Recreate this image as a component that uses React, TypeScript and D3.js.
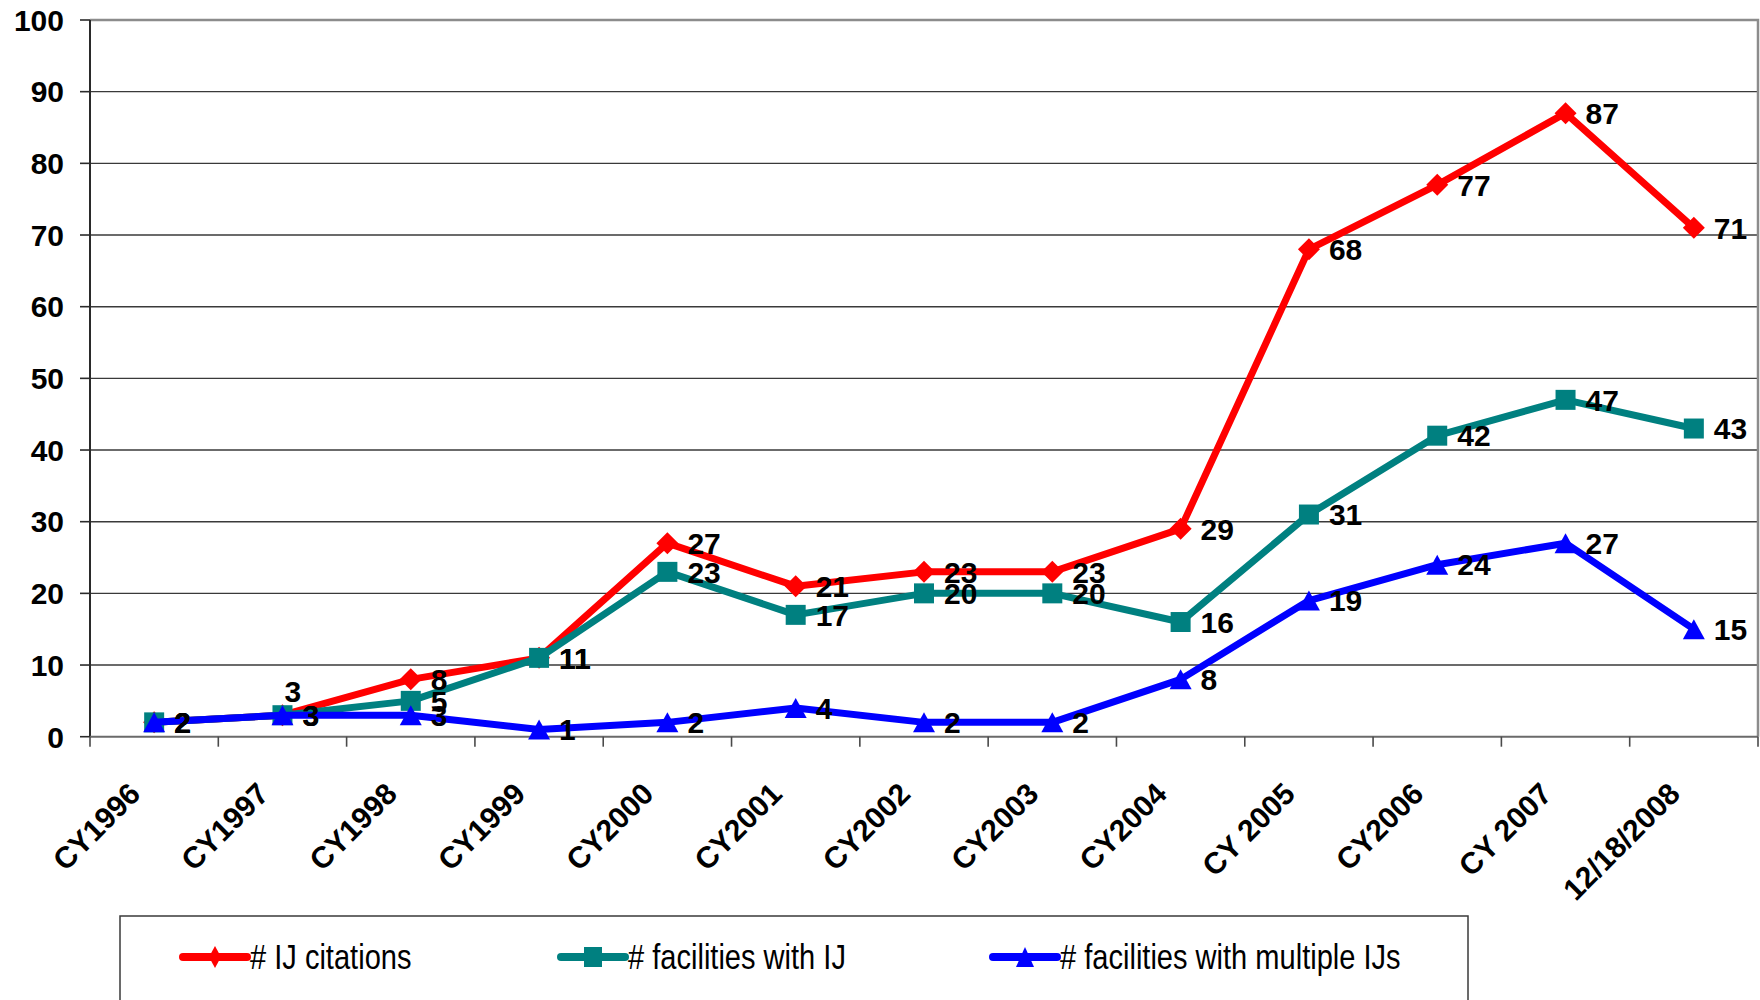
import * as d3 from 'd3';
import React, { useEffect, useRef } from 'react';

const categories = ['CY1996', 'CY1997', 'CY1998', 'CY1999', 'CY2000', 'CY2001', 'CY2002', 'CY2003', 'CY2004', 'CY 2005', 'CY2006', 'CY 2007', '12/18/2008'];
const ijCitations = [2, 3, 8, 11, 27, 21, 23, 23, 29, 68, 77, 87, 71];
const facilitiesWithIJ = [2, 3, 5, 11, 23, 17, 20, 20, 16, 31, 42, 47, 43];
const facilitiesMultipleIJs = [2, 3, 3, 1, 2, 4, 2, 2, 8, 19, 24, 27, 15];
const yTicks = [0, 10, 20, 30, 40, 50, 60, 70, 80, 90, 100];
const seriesNames = ['# IJ citations', '# facilities with IJ', '# facilities with multiple IJs'];

// excel-ish markers, sized by half width / half height
const diamond = (w, h) => ({
  draw(ctx) {
    ctx.moveTo(0, -h); ctx.lineTo(w, 0); ctx.lineTo(0, h); ctx.lineTo(-w, 0); ctx.closePath();
  }
});
const square = (w, h) => ({
  draw(ctx) {
    ctx.moveTo(-w, -h); ctx.lineTo(w, -h); ctx.lineTo(w, h); ctx.lineTo(-w, h); ctx.closePath();
  }
});
const triangle = (w, h) => ({
  draw(ctx) {
    ctx.moveTo(0, -h); ctx.lineTo(w, h); ctx.lineTo(-w, h); ctx.closePath();
  }
});

function App() {
  const ref = useRef(null);
  const width = 1760;
  const height = 1000;
  const left = 90, right = 1758, top = 20, bottom = 736.7;

  useEffect(() => {
    const svg = d3.select(ref.current);
    svg.selectAll('*').remove();
    const font = '"Liberation Sans", Arial, sans-serif';

    const x = d3.scaleBand().domain(categories).range([left, right]);
    const y = d3.scaleLinear().domain([0, 100]).range([bottom, top]);
    const cx = d => x(d) + x.bandwidth() / 2;

    // gridlines
    svg.append('g').selectAll('line')
      .data(yTicks.filter(t => t > 0 && t < 100))
      .enter().append('line')
      .attr('x1', left).attr('x2', right)
      .attr('y1', d => y(d)).attr('y2', d => y(d))
      .attr('stroke', '#3a3a3a').attr('stroke-width', 1.4);

    // plot border (top/right)
    svg.append('path')
      .attr('d', `M${left},${top}H${right}V${bottom}`)
      .attr('fill', 'none').attr('stroke', '#8c8c8c').attr('stroke-width', 2.5);

    // y axis
    const ya = svg.append('g');
    ya.append('line').attr('x1', left).attr('x2', left).attr('y1', top).attr('y2', bottom)
      .attr('stroke', '#2a2a2a').attr('stroke-width', 2);
    ya.selectAll('.tk').data(yTicks).enter().append('line')
      .attr('x1', left - 10).attr('x2', left)
      .attr('y1', d => y(d)).attr('y2', d => y(d))
      .attr('stroke', '#2a2a2a').attr('stroke-width', 1.6);
    ya.selectAll('text').data(yTicks).enter().append('text')
      .attr('x', 64).attr('y', d => y(d)).attr('dy', '0.36em')
      .attr('text-anchor', 'end')
      .attr('font-family', font).attr('font-weight', 'bold').attr('font-size', 30)
      .text(d => d);

    // x axis
    const xa = svg.append('g');
    xa.append('line').attr('x1', left).attr('x2', right).attr('y1', bottom).attr('y2', bottom)
      .attr('stroke', '#6a6a6a').attr('stroke-width', 2);
    xa.selectAll('.tk').data(d3.range(categories.length + 1)).enter().append('line')
      .attr('x1', i => left + i * x.step()).attr('x2', i => left + i * x.step())
      .attr('y1', bottom).attr('y2', bottom + 10)
      .attr('stroke', '#4a4a4a').attr('stroke-width', 1.6);
    xa.selectAll('text').data(categories).enter().append('text')
      .attr('transform', d => `translate(${cx(d) - 12},${bottom + 59}) rotate(-45)`)
      .attr('text-anchor', 'end')
      .attr('font-family', font).attr('font-weight', 'bold').attr('font-size', 30)
      .text(d => d);

    const series = [
      { name: seriesNames[0], values: ijCitations, color: '#ff0000', symbol: diamond(11, 11), legendSymbol: diamond(6, 11) },
      { name: seriesNames[1], values: facilitiesWithIJ, color: '#008080', symbol: square(10, 10), legendSymbol: square(9, 10) },
      { name: seriesNames[2], values: facilitiesMultipleIJs, color: '#0000ff', symbol: triangle(11, 10), legendSymbol: triangle(9, 10) }
    ];

    const line = d3.line().x(d => cx(d.c)).y(d => y(d.v));

    series.forEach(s => {
      const pts = categories.map((c, i) => ({ c, v: s.values[i] }));
      svg.append('path').datum(pts)
        .attr('d', line)
        .attr('fill', 'none').attr('stroke', s.color).attr('stroke-width', 7)
        .attr('stroke-linejoin', 'round');
      svg.append('g').selectAll('path').data(pts).enter().append('path')
        .attr('transform', d => `translate(${cx(d.c)},${y(d.v)})`)
        .attr('d', d3.symbol().type(s.symbol)())
        .attr('fill', s.color);
    });

    // data labels (the red CY1997 label sits above its point)
    series.forEach((s, si) => {
      svg.append('g').selectAll('text')
        .data(categories.map((c, i) => ({ c, v: s.values[i], i })))
        .enter().append('text')
        .attr('x', d => (si === 0 && d.i === 1) ? cx(d.c) + 2 : cx(d.c) + 20)
        .attr('y', d => (si === 0 && d.i === 1) ? y(d.v) - 24 : y(d.v))
        .attr('dy', '0.36em')
        .attr('font-family', font).attr('font-weight', 'bold').attr('font-size', 30)
        .text(d => d.v);
    });

    // legend
    const lg = svg.append('g');
    lg.append('rect').attr('x', 120).attr('y', 916).attr('width', 1348).attr('height', 120)
      .attr('fill', 'white').attr('stroke', '#3a3a3a').attr('stroke-width', 1.5);
    const legendX = [183, 561, 993];
    series.forEach((s, i) => {
      const x0 = legendX[i];
      lg.append('line').attr('x1', x0).attr('x2', x0 + 64).attr('y1', 957).attr('y2', 957)
        .attr('stroke', s.color).attr('stroke-width', 8).attr('stroke-linecap', 'round');
      lg.append('path').attr('transform', `translate(${x0 + 32},957)`)
        .attr('d', d3.symbol().type(s.legendSymbol)()).attr('fill', s.color);
      const t = lg.append('text').attr('x', x0 + 67).attr('y', 969)
        .attr('font-family', font)
        .attr('font-size', 35)
        .text(s.name);
      // the original uses a narrow face; squeeze the regular one
      const len = t.node().getComputedTextLength();
      t.attr('textLength', len * 0.83).attr('lengthAdjust', 'spacingAndGlyphs');
    });
  }, []);

  return (
    <svg ref={ref} width={width} height={height}
      style={{ position: 'absolute', left: 0, top: 0, background: 'white', display: 'block' }} />
  );
}

export default App;
